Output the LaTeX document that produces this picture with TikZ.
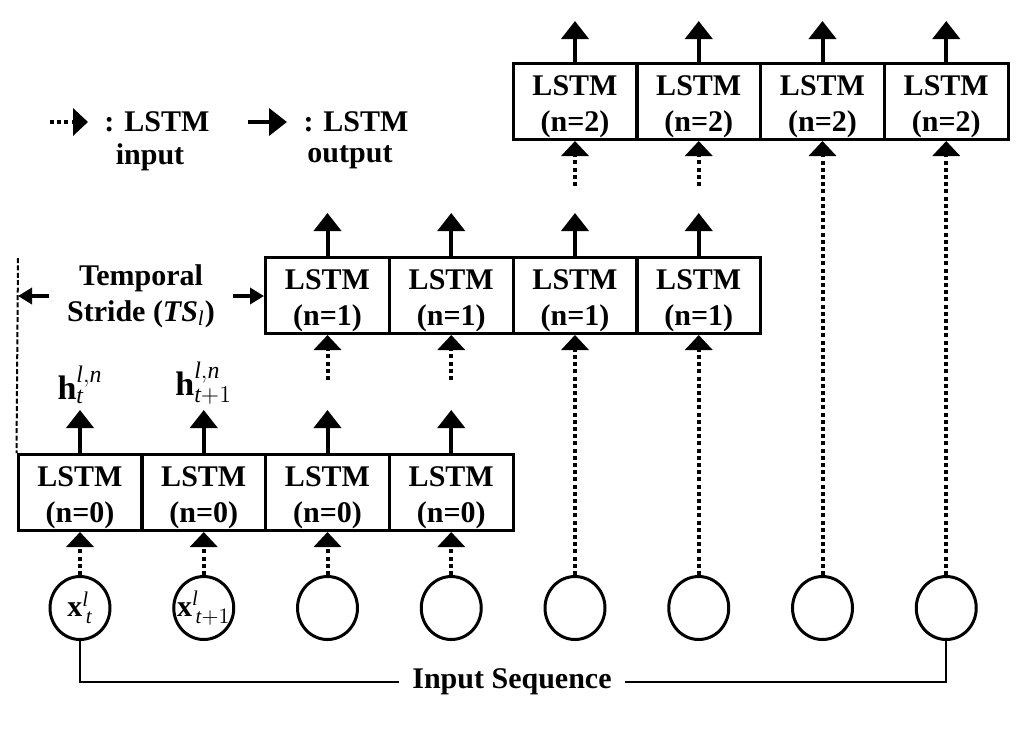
\documentclass[tikz,border=0pt]{standalone}
\usepackage{fontspec}
\setmainfont{Liberation Serif}
\usetikzlibrary{arrows.meta,positioning,calc,shapes.geometric}
\tikzset{
  every picture/.style={line width=1.5pt},
  lstm/.style={draw, rectangle, minimum width=62pt, minimum height=38pt,
               inner sep=0pt, align=center,
               font=\fontsize{15}{18}\selectfont\bfseries},
  xin/.style={draw, ellipse, minimum width=30pt, minimum height=31.5pt,
              inner sep=0pt},
  xlab/.style={font=\fontsize{15}{18}\selectfont, inner sep=0pt},
  lab/.style={font=\fontsize{15}{18}\selectfont\bfseries, align=center},
  hlab/.style={font=\fontsize{17}{20}\selectfont, inner sep=2pt},
  sOut/.style={-{Triangle[width=13.5pt,length=9pt]}, line width=2pt},
  sIn/.style={-{Triangle[width=13.5pt,length=7.5pt]}, line width=2pt,
              dash pattern=on 2pt off 1.6pt},
  sStride/.style={-{Triangle[width=8pt,length=7pt]}, line width=2pt},
  sSeq/.style={line width=0.8pt},
}
\newcommand{\lstmtxt}[1]{\rule{0pt}{15pt}LSTM\\(n=#1)}

\begin{document}
\begin{tikzpicture}[x=0.5pt,y=-0.5pt]
\useasboundingbox (0,0) rectangle (1030,730);

% input sequence
\node[xin] (x1) at (80,608) {};
\node[xin] (x2) at (203.75,608) {};
\node[xin] (x3) at (327.5,608) {};
\node[xin] (x4) at (451.25,608) {};
\node[xin] (x5) at (575,608) {};
\node[xin] (x6) at (698.75,608) {};
\node[xin] (x7) at (822.5,608) {};
\node[xin] (x8) at (946.25,608) {};
\node[xlab] (x1t) at (x1) {$\mathbf{x}^{\mathit{l}}_{\,\mathit{t}}$};
\node[xlab] (x2t) at (x2) {$\mathbf{x}^{\mathit{l}}_{\,\mathit{t}+1}$};

% LSTM layers
\node[lstm] (b01) at (80,492.5) {\lstmtxt{0}};
\node[lstm] (b02) at (203.75,492.5) {\lstmtxt{0}};
\node[lstm] (b03) at (327.5,492.5) {\lstmtxt{0}};
\node[lstm] (b04) at (451.25,492.5) {\lstmtxt{0}};

\node[lstm] (b11) at (327.5,295.5) {\lstmtxt{1}};
\node[lstm] (b12) at (451.25,295.5) {\lstmtxt{1}};
\node[lstm] (b13) at (575,295.5) {\lstmtxt{1}};
\node[lstm] (b14) at (698.75,295.5) {\lstmtxt{1}};

\node[lstm] (b21) at (575,101.5) {\lstmtxt{2}};
\node[lstm] (b22) at (698.75,101.5) {\lstmtxt{2}};
\node[lstm] (b23) at (822.5,101.5) {\lstmtxt{2}};
\node[lstm] (b24) at (946.25,101.5) {\lstmtxt{2}};

% inputs
\draw[sIn] (x1) -- (b01);
\draw[sIn] (x2) -- (b02);
\draw[sIn] (x3) -- (b03);
\draw[sIn] (x4) -- (b04);
\draw[sIn] ($(b11.south)+(0,45)$) -- (b11.south);
\draw[sIn] ($(b12.south)+(0,45)$) -- (b12.south);
\draw[sIn] (x5) -- (b13);
\draw[sIn] (x6) -- (b14);
\draw[sIn] ($(b21.south)+(0,45)$) -- (b21.south);
\draw[sIn] ($(b22.south)+(0,45)$) -- (b22.south);
\draw[sIn] (x7) -- (b23);
\draw[sIn] (x8) -- (b24);

% outputs
\draw[sOut] (b01.north) -- ++(0,-43)
  node[hlab, above] {$\mathbf{h}^{\mathit{l,n}}_{\mathit{t}}$};
\draw[sOut] (b02.north) -- ++(0,-43)
  node[hlab, above] {$\mathbf{h}^{\mathit{l,n}}_{\mathit{t}+1}$};
\draw[sOut] (b03.north) -- ++(0,-43);
\draw[sOut] (b04.north) -- ++(0,-43);
\draw[sOut] (b11.north) -- ++(0,-43);
\draw[sOut] (b12.north) -- ++(0,-43);
\draw[sOut] (b13.north) -- ++(0,-43);
\draw[sOut] (b14.north) -- ++(0,-43);
\draw[sOut] (b21.north) -- ++(0,-41);
\draw[sOut] (b22.north) -- ++(0,-41);
\draw[sOut] (b23.north) -- ++(0,-41);
\draw[sOut] (b24.north) -- ++(0,-41);

% temporal stride
\coordinate (dtop) at (18,258);
\draw[line width=1pt, dash pattern=on 2.5pt off 1.2pt] (dtop) -- (b01.north west);
\node[lab, inner xsep=8.5pt] (ts) at (141,296)
  {Temporal\\Stride (\textit{TS}$_{\mathit{l}}$)};
\draw[sStride] (ts.west) -- (ts.west -| dtop);
\draw[sStride] (ts.east) -- (ts.east -| b11.west);

% legend
\node[lab, anchor=west, inner xsep=7.5pt] (lgi) at (88,122) {: LSTM};
\node[lab] (lgit) at (150,157) {input};
\draw[sIn] ($(lgi.west)+(-38,0)$) -- (lgi.west);
\node[lab, anchor=west, inner xsep=7.5pt] (lgo) at (287,122) {: LSTM};
\node[lab] (lgot) at (350,157) {output};
\draw[sOut] ($(lgo.west)+(-39,0)$) -- (lgo.west);

% sequence bracket
\node[lab, inner xsep=6pt] (seq) at (512,682) {Input Sequence};
\draw[sSeq] (x1.south) |- (seq.west);
\draw[sSeq] (x8.south) |- (seq.east);
\end{tikzpicture}
\end{document}
